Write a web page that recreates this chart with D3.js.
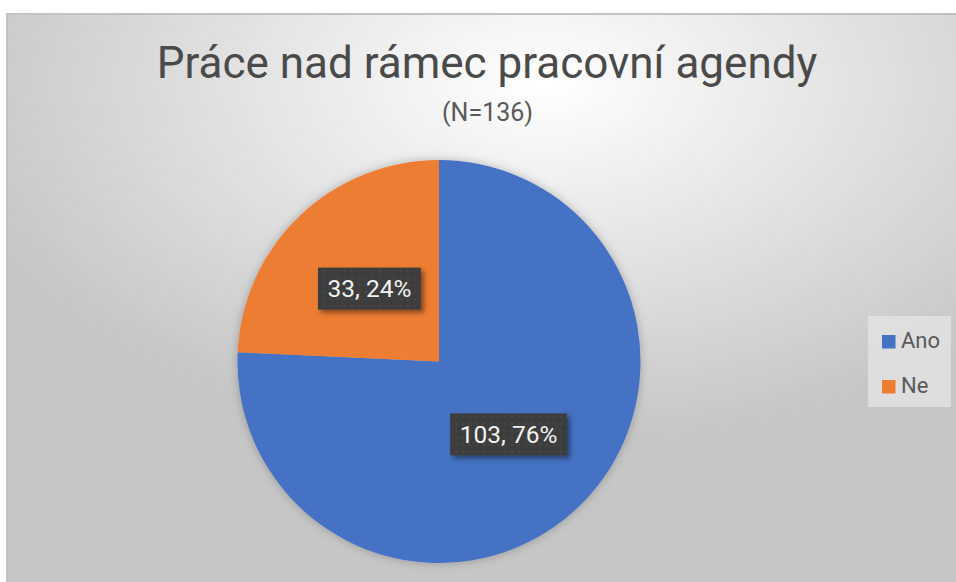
<!DOCTYPE html>
<meta charset="utf-8">
<head>
  <title>Práce nad rámec pracovní agendy</title>
</head>
<style>
body {
  margin: 0;
  background: #fff;
  font-family: Roboto, "Noto Sans", sans-serif;
}
svg { display: block; }
</style>
<body>
  <div id="content"></div>
  <script src="https://cdnjs.cloudflare.com/ajax/libs/d3/7.8.5/d3.min.js"></script>
  <script>

// data
var title = 'Práce nad rámec pracovní agendy';
var subtitle = '(N=136)';
var categories = ['Ano', 'Ne'];
var counts = [103, 33];
var colors = ['#4472C4', '#ED7D31'];

var width = 956, height = 582;
var cx = 439, cy = 361.5, radius = 201.5;

var svg = d3.select('#content').append('svg')
  .attr('width', width)
  .attr('height', height);

var defs = svg.append('defs');

// chart background, light in the top middle and grey to the edges
var bg = defs.append('radialGradient')
  .attr('id', 'bg')
  .attr('cx', '0.55').attr('cy', '0.12')
  .attr('r', '0.62');
bg.append('stop').attr('offset', '0').attr('stop-color', '#ffffff');
bg.append('stop').attr('offset', '1').attr('stop-color', '#c6c6c6');

var pieShadow = defs.append('filter').attr('id', 'pieShadow')
  .attr('x', '-20%').attr('y', '-20%').attr('width', '140%').attr('height', '140%');
pieShadow.append('feDropShadow')
  .attr('dx', 0).attr('dy', 0).attr('stdDeviation', 5)
  .attr('flood-color', '#000').attr('flood-opacity', 0.25);

var boxShadow = defs.append('filter').attr('id', 'boxShadow')
  .attr('x', '-20%').attr('y', '-30%').attr('width', '150%').attr('height', '170%');
boxShadow.append('feDropShadow')
  .attr('dx', 3).attr('dy', 3).attr('stdDeviation', 2.5)
  .attr('flood-color', '#000').attr('flood-opacity', 0.45);

// dotted dark fill of the data label boxes
var dots = defs.append('pattern')
  .attr('id', 'dots')
  .attr('patternUnits', 'userSpaceOnUse')
  .attr('width', 7).attr('height', 7);
dots.append('rect').attr('width', 7).attr('height', 7).attr('fill', '#3d3d3d');
dots.append('circle').attr('cx', 3.5).attr('cy', 3.5).attr('r', 1.1).attr('fill', '#4b4b4b');

svg.append('rect')
  .attr('x', 7).attr('y', 14)
  .attr('width', width + 20).attr('height', height)
  .attr('fill', 'url(#bg)')
  .attr('stroke', '#c2c2c2')
  .attr('stroke-width', 2);

svg.append('text')
  .attr('x', 487).attr('y', 78)
  .attr('text-anchor', 'middle')
  .attr('font-size', 44)
  .attr('fill', '#4a4a4a')
  .text(title);

svg.append('text')
  .attr('x', 487.5).attr('y', 121)
  .attr('text-anchor', 'middle')
  .attr('font-size', 25)
  .attr('fill', '#595959')
  .text(subtitle);

//Build pie
var color = d3.scaleOrdinal().domain(categories).range(colors);
var total = d3.sum(counts);
var rows = categories.map(function(c, i) { return {name: c, value: counts[i]}; });

var pie = d3.pie().sort(null).value(function(d) { return d.value; });
var arc = d3.arc().innerRadius(0).outerRadius(radius);
var labelArc = d3.arc().innerRadius(0).outerRadius(radius);

var g = svg.append('g').attr('transform', 'translate(' + cx + ',' + cy + ')');

g.append('g')
  .attr('filter', 'url(#pieShadow)')
  .selectAll('path')
  .data(pie(rows))
  .join('path')
  .attr('d', arc)
  .attr('fill', function(d) { return color(d.data.name); });

// data labels "count, percent"
var labels = g.selectAll('g.label')
  .data(pie(rows))
  .join('g')
  .attr('class', 'label')
  .attr('transform', function(d) {
    var c = labelArc.centroid(d);
    return 'translate(' + c[0] + ',' + c[1] + ')';
  });

labels.each(function(d) {
  var lg = d3.select(this);
  var txt = lg.append('text')
    .attr('text-anchor', 'middle')
    .attr('dy', '0.36em')
    .attr('font-size', 24.5)
    .attr('fill', '#f2f2f2')
    .text(d.data.value + ', ' + Math.round(d.data.value / total * 100) + '%');
  var w = txt.node().getComputedTextLength() + 19;
  var h = 42;
  lg.insert('rect', 'text')
    .attr('x', -w / 2).attr('y', -h / 2)
    .attr('width', w).attr('height', h)
    .attr('fill', 'url(#dots)')
    .attr('filter', 'url(#boxShadow)');
});

// legend
var legend = svg.append('g').attr('transform', 'translate(868,316)');
legend.append('rect')
  .attr('width', 83).attr('height', 91)
  .attr('fill', '#e2e2e2')
  .attr('fill-opacity', 0.85);

var ly = d3.scalePoint().domain(categories).range([41, 86]);

var items = legend.selectAll('g.item')
  .data(categories)
  .join('g')
  .attr('class', 'item')
  .attr('transform', function(d) { return 'translate(14,' + (ly(d) - 10) + ')'; });

items.append('rect')
  .attr('y', -12)
  .attr('width', 13.5).attr('height', 13.5)
  .attr('fill', function(d) { return color(d); });

items.append('text')
  .attr('x', 19).attr('y', 1)
  .attr('font-size', 22)
  .attr('fill', '#595959')
  .text(function(d) { return d; });

</script>
</body>
</html>
